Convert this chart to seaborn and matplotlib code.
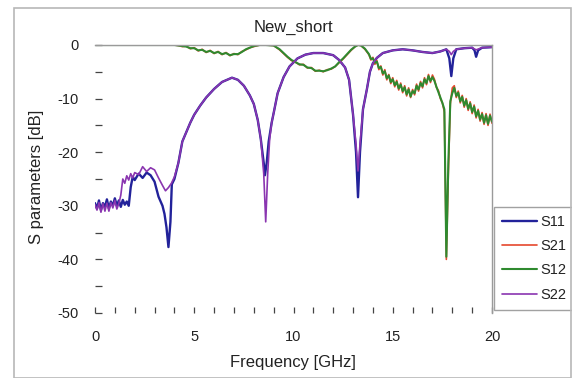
import matplotlib
matplotlib.use("Agg")
import matplotlib.pyplot as plt
from matplotlib.patches import Rectangle
from matplotlib.ticker import MultipleLocator
import numpy as np
import pandas as pd
import seaborn as sns

# ---------------- data ----------------
s11_freq = [0.0, 0.1, 0.2, 0.3, 0.4, 0.5, 0.6, 0.7, 0.8, 0.9,
            1.0, 1.1, 1.2, 1.3, 1.4, 1.5, 1.6, 1.7, 1.8, 1.9,
            2.0, 2.2, 2.4, 2.6, 2.8, 3.0, 3.2, 3.4, 3.5, 3.6,
            3.7, 3.8, 3.87, 4.0, 4.2, 4.4, 4.8, 5.0, 5.3, 5.6,
            6.0, 6.4, 6.9, 7.2, 7.5, 7.8, 8.0, 8.2, 8.35, 8.5,
            8.56, 8.65, 8.75, 8.9, 9.0, 9.2, 9.5, 9.8, 10.2, 10.6,
            11.0, 11.5, 12.0, 12.3, 12.6, 12.8, 13.0, 13.15, 13.25, 13.35,
            13.5, 13.7, 13.85, 14.0, 14.2, 14.5, 15.0, 15.5, 16.0, 16.5,
            17.0, 17.4, 17.7, 17.85, 17.95, 18.05, 18.2, 18.6, 19.0, 19.12,
            19.2, 19.3, 19.5, 20.0]
s11_db = [-29.5, -30.5, -29.0, -30.8, -29.5, -30.2, -28.8, -30.5, -29.2, -30.0,
          -28.6, -30.0, -29.0, -30.2, -28.9, -29.8, -29.2, -30.0, -26.5, -24.6,
          -25.2, -24.0, -24.8, -23.8, -24.3, -25.5, -28.3, -30.0, -31.5, -34.0,
          -37.7, -33.0, -26.0, -25.0, -22.0, -18.0, -14.5, -13.0, -11.3, -9.8,
          -8.2, -6.9, -6.1, -6.5, -7.6, -9.4, -11.0, -14.0, -17.5, -22.0,
          -24.3, -22.0, -18.0, -14.5, -12.7, -9.0, -6.0, -4.0, -2.5, -1.8,
          -1.5, -1.5, -1.9, -2.8, -4.2, -6.5, -13.0, -20.0, -28.4, -20.0,
          -12.0, -8.2, -5.0, -3.4, -2.4, -1.5, -1.0, -0.8, -1.0, -1.3,
          -1.5, -1.2, -0.8, -2.5, -5.8, -2.5, -0.8, -0.6, -0.5, -1.0,
          -2.2, -1.0, -0.5, -0.4]

s22_freq = [0.0, 0.1, 0.2, 0.3, 0.4, 0.5, 0.6, 0.7, 0.8, 0.9,
            1.0, 1.1, 1.2, 1.3, 1.4, 1.5, 1.6, 1.7, 1.8, 1.9,
            2.0, 2.2, 2.4, 2.6, 2.8, 3.0, 3.2, 3.4, 3.55, 3.7,
            3.85, 4.0, 4.2, 4.4, 4.8, 5.0, 5.3, 5.6, 6.0, 6.4,
            6.9, 7.2, 7.5, 7.8, 8.0, 8.2, 8.35, 8.5, 8.6, 8.7,
            8.8, 8.9, 9.0, 9.2, 9.5, 9.8, 10.2, 10.6, 11.0, 11.5,
            12.0, 12.3, 12.6, 12.8, 13.0, 13.15, 13.25, 13.35, 13.5, 13.7,
            13.85, 14.0, 14.2, 14.5, 15.0, 15.5, 16.0, 16.5, 17.0, 17.4,
            17.7, 17.85, 17.95, 18.05, 18.2, 18.6, 19.0, 19.2, 19.5, 20.0]
s22_db = [-29.8, -30.8, -29.4, -31.2, -29.6, -31.0, -29.5, -31.0, -29.4, -30.4,
          -29.0, -30.6, -29.6, -28.0, -25.0, -25.8, -24.4, -25.2, -24.0, -24.8,
          -23.8, -24.2, -22.7, -23.6, -22.9, -23.3, -24.8, -26.2, -27.2, -26.6,
          -25.8, -24.6, -22.0, -18.0, -14.5, -13.0, -11.3, -9.8, -8.2, -6.9,
          -6.1, -6.5, -7.6, -9.4, -11.0, -14.0, -17.5, -24.0, -33.0, -24.0,
          -17.5, -14.5, -12.7, -9.0, -6.0, -4.0, -2.5, -1.8, -1.5, -1.5,
          -1.9, -2.8, -4.2, -6.5, -13.0, -18.5, -23.5, -18.5, -12.0, -8.2,
          -5.0, -3.4, -2.4, -1.5, -1.0, -0.8, -1.0, -1.3, -1.5, -1.2,
          -0.8, -1.2, -1.8, -1.2, -0.8, -0.6, -0.5, -0.9, -0.5, -0.4]

trans_freq = [0.0, 4.0, 4.2, 4.4, 4.6, 4.8, 5.0, 5.2, 5.4, 5.6,
              5.8, 6.0, 6.2, 6.4, 6.6, 6.8, 7.0, 7.2, 7.4, 7.6,
              7.8, 8.0, 8.3, 8.6, 9.0, 9.3, 9.5, 9.7, 9.9, 10.1,
              10.3, 10.5, 10.7, 10.9, 11.1, 11.3, 11.5, 11.7, 11.9, 12.1,
              12.3, 12.5, 12.7, 12.9, 13.1, 13.25, 13.4, 13.6, 13.8, 13.9,
              14.0, 14.1, 14.2, 14.3, 14.4, 14.5, 14.6, 14.7, 14.8, 14.9,
              15.0, 15.1, 15.2, 15.3, 15.4, 15.5, 15.6, 15.7, 15.8, 15.9,
              16.0, 16.1, 16.2, 16.3, 16.4, 16.5, 16.6, 16.7, 16.8, 16.9,
              17.0, 17.1, 17.2, 17.3, 17.4, 17.5, 17.6, 17.7, 17.8, 17.9,
              18.0, 18.1, 18.2, 18.3, 18.4, 18.5, 18.6, 18.7, 18.8, 18.9,
              19.0, 19.1, 19.2, 19.3, 19.4, 19.5, 19.6, 19.7, 19.8, 19.9,
              20.0]
s21_db = [0.0, 0.0, -0.1, -0.3, -0.2, -0.7, -0.5, -1.1, -0.8, -1.4,
          -1.0, -1.6, -1.2, -1.8, -1.4, -2.0, -1.6, -1.8, -1.2, -0.9,
          -0.5, -0.3, 0.0, 0.0, -0.1, -0.9, -1.6, -2.3, -2.9, -3.2,
          -3.7, -3.6, -4.3, -4.2, -4.9, -4.7, -5.0, -4.6, -4.5, -4.0,
          -3.3, -2.6, -1.8, -1.0, -0.3, 0.0, -0.1, -0.8, -1.8, -2.8,
          -2.3, -3.6, -2.9, -4.6, -3.9, -5.6, -4.6, -6.5, -5.5, -7.2,
          -6.1, -7.8, -6.6, -8.4, -7.1, -8.9, -7.6, -9.5, -8.0, -9.8,
          -8.3, -9.3, -7.3, -8.6, -6.8, -8.0, -6.1, -7.4, -5.5, -7.0,
          -5.6, -6.4, -7.9, -8.5, -10.0, -10.8, -12.5, -40.0, -24.0, -11.0,
          -8.0, -7.6, -9.8, -8.6, -10.8, -9.4, -11.6, -10.0, -12.2, -10.6,
          -12.8, -11.2, -13.6, -12.0, -14.2, -12.6, -14.8, -12.8, -15.0, -12.9,
          -14.6]
s12_db = [0.0, 0.0, -0.1, -0.2, -0.3, -0.6, -0.6, -1.0, -0.9, -1.3,
          -1.1, -1.5, -1.3, -1.7, -1.5, -1.9, -1.7, -1.7, -1.3, -0.8,
          -0.5, -0.2, 0.0, 0.0, -0.1, -0.8, -1.5, -2.2, -2.8, -3.2,
          -3.6, -3.7, -4.2, -4.3, -4.8, -4.8, -4.9, -4.7, -4.4, -4.0,
          -3.2, -2.5, -1.7, -0.9, -0.3, 0.0, -0.1, -0.7, -1.7, -2.6,
          -2.5, -3.3, -3.1, -4.3, -4.1, -5.3, -4.9, -6.2, -5.7, -6.9,
          -6.4, -7.5, -6.9, -8.1, -7.4, -8.6, -7.9, -9.2, -8.3, -9.6,
          -8.6, -9.0, -7.6, -8.3, -7.1, -7.7, -6.4, -7.1, -5.8, -6.7,
          -6.0, -6.7, -7.8, -8.8, -9.8, -10.8, -12.0, -39.5, -22.0, -10.5,
          -9.0, -8.0, -9.5, -8.9, -10.5, -9.7, -11.3, -10.3, -11.9, -10.9,
          -12.5, -11.5, -13.3, -12.3, -13.9, -12.9, -14.5, -13.1, -14.7, -13.2,
          -14.3]

series_names = ["S11", "S21", "S12", "S22"]
x_ticks = [0, 5, 10, 15, 20]
y_ticks = [0, -10, -20, -30, -40, -50]

# ---------------- figure ----------------
sns.set_theme(style="white")
plt.rcParams["font.family"] = ["Liberation Sans", "DejaVu Sans"]

W, H = 572, 378
fig = plt.figure(figsize=(W / 100, H / 100), dpi=100)
fig.patch.set_facecolor("white")

x0, x1, y0, y1 = 95, 492, 45, 313
ax = fig.add_axes([x0 / W, 1 - y1 / H, (x1 - x0) / W, (y1 - y0) / H])
ax.set_facecolor("white")

styles = {
    "S11": dict(color="#22229a", lw=1.7),
    "S21": dict(color="#e5482e", lw=1.2),
    "S12": dict(color="#2f8a2f", lw=1.5),
    "S22": dict(color="#8a35b0", lw=1.2),
}
data = {
    "S11": (s11_freq, s11_db),
    "S21": (trans_freq, s21_db),
    "S12": (trans_freq, s12_db),
    "S22": (s22_freq, s22_db),
}
for name in series_names:
    f, v = data[name]
    df = pd.DataFrame({"Frequency": f, "dB": v})
    sns.lineplot(data=df, x="Frequency", y="dB", ax=ax, estimator=None,
                 sort=True, label=name, **styles[name])

ax.set_xlim(0, 20)
ax.set_ylim(-50, 0)
ax.set_xticks(x_ticks)
ax.set_xticklabels([str(t) for t in x_ticks])
ax.set_yticks(y_ticks)
ax.set_yticklabels([str(t) for t in y_ticks])
ax.xaxis.set_minor_locator(MultipleLocator(1))
ax.yaxis.set_minor_locator(MultipleLocator(5))
ax.tick_params(axis="both", which="both", direction="in", colors="#444444",
               labelcolor="#222222", labelsize=10.5, width=0.9,
               bottom=True, left=True, top=False, right=False)
ax.tick_params(axis="x", which="both", length=4, pad=12)
ax.tick_params(axis="y", which="both", length=5, pad=12)
ax.set_xlabel("")
ax.set_ylabel("")

for side in ["left", "bottom"]:
    ax.spines[side].set_visible(False)
for side in ["top", "right"]:
    ax.spines[side].set_visible(True)
    ax.spines[side].set_color("#9a9a9a")
    ax.spines[side].set_linewidth(1.0)

fig.text(293 / W, 1 - 27 / H, "New_short", ha="center", va="center",
         fontsize=12, color="#222222")
fig.text(293 / W, 1 - 363 / H, "Frequency [GHz]", ha="center", va="center",
         fontsize=12, color="#222222")
fig.text(37 / W, 1 - 177 / H, "S parameters [dB]", ha="center", va="center",
         rotation=90, fontsize=12, color="#222222")

leg = ax.legend(loc="upper left", bbox_to_anchor=(494 / W, 1 - 207 / H),
                bbox_transform=fig.transFigure, frameon=True, fancybox=False,
                fontsize=10.5, handlelength=2.4, handletextpad=0.2,
                labelspacing=0.7, borderpad=0.55, borderaxespad=0)
leg.get_frame().set_edgecolor("#8a8a8a")
leg.get_frame().set_linewidth(1.0)
for t in leg.get_texts():
    t.set_color("#222222")

fig.patches.append(Rectangle((14 / W, 0.5 / H), (W - 15) / W, (H - 8.5) / H,
                             transform=fig.transFigure, fill=False,
                             edgecolor="#b8b8b8", linewidth=1.2))

fig.savefig("out.png", dpi=100, facecolor="white")
